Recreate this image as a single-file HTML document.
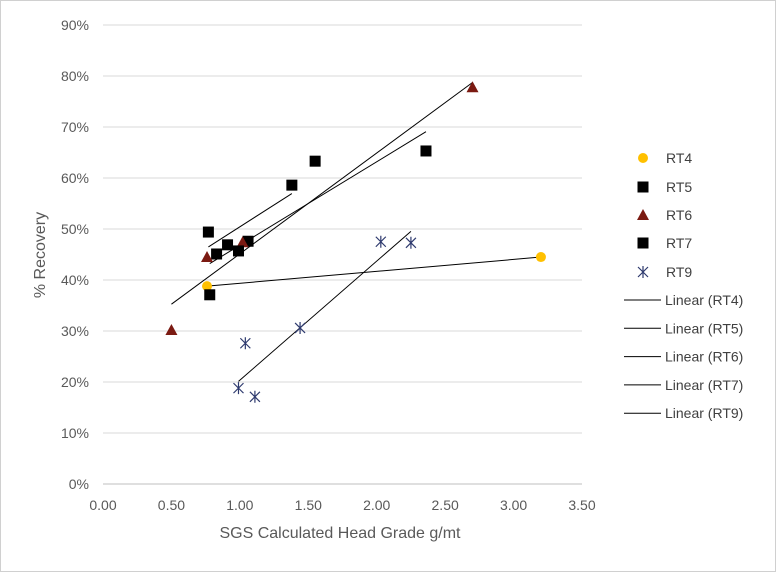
<!DOCTYPE html>
<html><head><meta charset="utf-8"><style>
body{margin:0;background:#fff;}
svg{display:block;font-family:"Liberation Sans",Arial,sans-serif;}
</style></head><body>
<svg id="chart" width="777" height="573">
<rect x="0.5" y="0.5" width="775" height="571" fill="#fff" stroke="#d0d0d0"/>
<g id="grid"></g><g id="axes"></g><g id="marks"></g><g id="legend"></g>
<text x="340" y="538" font-size="16" fill="#595959" text-anchor="middle">SGS Calculated Head Grade g/mt</text>
<text transform="translate(45,255) rotate(-90)" font-size="16" fill="#595959" text-anchor="middle">% Recovery</text>
</svg>
<script>
const seriesNames = ["RT4","RT5","RT6","RT7","RT9"];
const rt4X = [0.76, 3.20];
const rt4Y = [38.8, 44.5];
const rt5X = [0.78, 0.83, 0.91, 1.06, 1.55, 2.36];
const rt5Y = [37.1, 45.1, 46.9, 47.6, 63.3, 65.3];
const rt6X = [0.50, 0.76, 1.02, 2.70];
const rt6Y = [30.2, 44.5, 47.4, 77.8];
const rt7X = [0.77, 0.99, 1.38];
const rt7Y = [49.4, 45.7, 58.6];
const rt9X = [0.99, 1.11, 1.04, 1.44, 2.03, 2.25];
const rt9Y = [18.8, 17.1, 27.6, 30.6, 47.5, 47.3];
const xTicks = [0,0.5,1,1.5,2,2.5,3,3.5];
const yTicks = [0,10,20,30,40,50,60,70,80,90];

const NS="http://www.w3.org/2000/svg";
const X0=103,X1=582,Y0=484,Y1=25;
const xs=v=>X0+(v/3.5)*(X1-X0);
const ys=v=>Y0-(v/90)*(Y0-Y1);
function mk(tag,attrs,parent,text){const e=document.createElementNS(NS,tag);for(const k in attrs)e.setAttribute(k,attrs[k]);if(text!==undefined)e.textContent=text;document.getElementById(parent).appendChild(e);return e;}

yTicks.forEach(t=>{
  const l=mk("line",{x1:X0,x2:X1,y1:ys(t),y2:ys(t),stroke:t===0?"#bfbfbf":"#d9d9d9","stroke-width":1},"grid");
  
  
  const tx=mk("text",{x:X0-14,y:ys(t)+5,"font-size":14,fill:"#595959","text-anchor":"end"},"axes",t+"%");
  
  
});
xTicks.forEach(t=>{
  const tx=mk("text",{x:xs(t),y:Y0+26,"font-size":14,fill:"#595959","text-anchor":"middle"},"axes",t.toFixed(2));
  
  
});

function trend(xa,ya,name){
  const n=xa.length,mx=xa.reduce((a,b)=>a+b)/n,my=ya.reduce((a,b)=>a+b)/n;
  let sxy=0,sxx=0;for(let i=0;i<n;i++){sxy+=(xa[i]-mx)*(ya[i]-my);sxx+=(xa[i]-mx)**2;}
  const b=sxy/sxx,a=my-b*mx,lo=Math.min(...xa),hi=Math.max(...xa);
  const l=mk("line",{x1:xs(lo),y1:ys(a+b*lo),x2:xs(hi),y2:ys(a+b*hi),stroke:"#000","stroke-width":1},"marks");
  
  
}
trend(rt4X,rt4Y,'trendline-rt4');trend(rt5X,rt5Y,'trendline-rt5');trend(rt6X,rt6Y,'trendline-rt6');trend(rt7X,rt7Y,'trendline-rt7');trend(rt9X,rt9Y,'trendline-rt9');

function marker(type,cx,cy,name,parent){
  let e;
  if(type==="circle")e=mk("circle",{cx,cy,r:5,fill:"#ffc000"},parent);
  else if(type==="square")e=mk("rect",{x:cx-5.5,y:cy-5.5,width:11,height:11,fill:"#000"},parent);
  else if(type==="tri")e=mk("polygon",{points:`${cx},${cy-6} ${cx+6},${cy+5} ${cx-6},${cy+5}`,fill:"#7b1a12"},parent);
  else e=mk("path",{d:`M${cx-5},${cy-5}L${cx+5},${cy+5}M${cx+5},${cy-5}L${cx-5},${cy+5}M${cx},${cy-6}L${cx},${cy+6}`,stroke:"#2e3a6e","stroke-width":1.2,fill:"none"},parent);
  
  
}
const sets=[[rt4X,rt4Y,"circle"],[rt5X,rt5Y,"square"],[rt6X,rt6Y,"tri"],[rt7X,rt7Y,"square"],[rt9X,rt9Y,"star"]];
sets.forEach((s,k)=>s[0].forEach((x,i)=>marker(s[2],xs(x),ys(s[1][i]),'point-'+seriesNames[k].toLowerCase(),"marks")));

const ly=[158,187,215,243,272];
seriesNames.forEach((n,i)=>{
  marker(sets[i][2],643,ly[i],'legend-marker-'+n.toLowerCase(),"legend");
  const t=mk("text",{x:666,y:ly[i]+5,"font-size":14,fill:"#404040"},"legend",n);
  
  
  const yy=300+i*28.3;
  const l=mk("line",{x1:624,x2:661,y1:yy,y2:yy,stroke:"#000","stroke-width":1},"legend");
  
  
  const t2=mk("text",{x:665,y:yy+5,"font-size":14,fill:"#404040"},"legend","Linear ("+n+")");
  
  
});
</script>
</body></html>
